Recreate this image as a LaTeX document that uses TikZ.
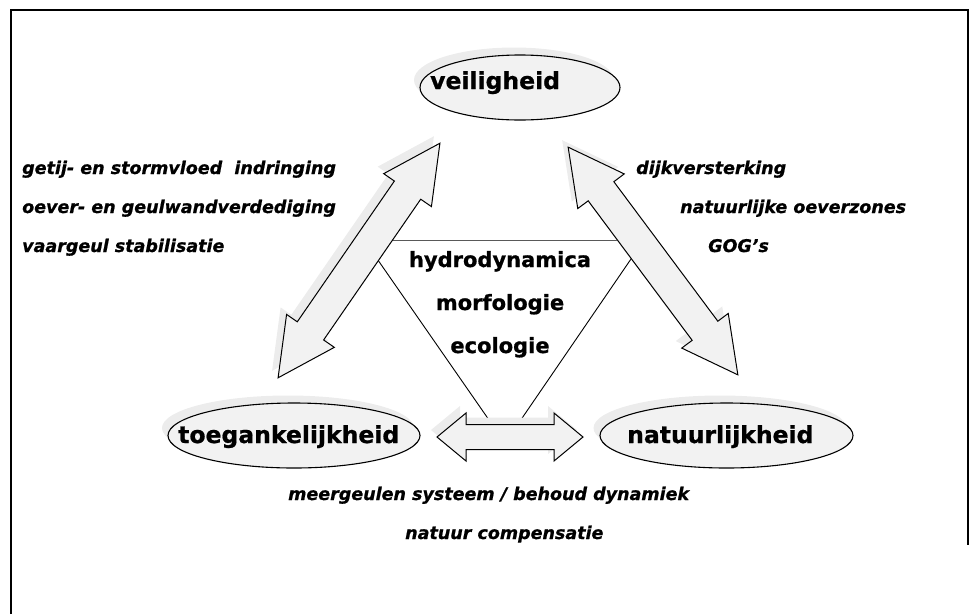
\documentclass[tikz,border=0pt]{standalone}
\usepackage{fontspec}
\setmainfont{DejaVu Sans}[BoldFeatures={FakeBold=0.8},BoldItalicFeatures={FakeBold=0.8}]
\usetikzlibrary{shapes.geometric}
\definecolor{fillg}{RGB}{242,242,242}
\definecolor{shadg}{RGB}{236,236,236}
\begin{document}
\begin{tikzpicture}[x=1pt,y=-1pt,
 ell/.style={ellipse, draw=black, line width=1.1pt, fill=fillg, minimum width=#1, minimum height=65pt, inner sep=0pt},
 ellshadow/.style={ellipse, fill=shadg, minimum width=#1, minimum height=65pt, inner sep=0pt},
 bigtxt/.style={font=\fontsize{23.5}{28}\selectfont\bfseries, inner sep=0pt, anchor=base west},
 ctxt/.style={font=\fontsize{21}{25}\selectfont\bfseries, inner sep=0pt, anchor=base},
 itxt/.style={font=\fontsize{17.5}{21}\selectfont\bfseries\itshape, inner sep=0pt, anchor=base west},
 arr/.style={draw=black, line width=1pt, fill=fillg, line join=miter},
 arrshadow/.style={fill=shadg},
 pics/dbl/.style n args={4}{code={
   \pgfmathsetmacro\hl{#1/2}\pgfmathsetmacro\hb{#1/2-#2}
   \path[pic actions] (-\hl,0) -- (-\hb,#3) -- (-\hb,#4) -- (\hb,#4) -- (\hb,#3) -- (\hl,0) -- (\hb,-#3) -- (\hb,-#4) -- (-\hb,-#4) -- (-\hb,-#3) -- cycle;
 }}]
\useasboundingbox (0,0) rectangle (979,614);
% frame
\draw[line width=1.5pt] (11,614) -- (11,10) -- (968,10) -- (968,545);
% central triangle
\coordinate (tl) at (364,240);
\coordinate (tr) at (644,240);
\coordinate (tb) at (505,443);
\draw[line width=0.9pt] (tl) -- (tb) -- (tr);
\draw[line width=1pt, black!65] (tl) -- (tr);
% ellipse shadows
\node[ellshadow=200pt] at (514,80) {};
\node[ellshadow=252pt] at (288,428) {};
\node[ellshadow=253pt] at (720,428) {};
% arrow shadows
\pic[arrshadow, rotate=55.4] at (353,253.5) {dbl={285}{57}{29}{16}};
\pic[arrshadow, rotate=-53.3] at (647,254) {dbl={284}{55}{29}{16}};
\pic[arrshadow] at (504,430) {dbl={146}{29}{24}{12.5}};
% arrows
\pic[arr, rotate=55.4] at (359,260.5) {dbl={285}{57}{29}{16}};
\pic[arr, rotate=-53.3] at (653,261) {dbl={284}{55}{29}{16}};
\pic[arr] at (510,437) {dbl={146}{29}{24}{12.5}};
% ellipses
\node[ell=200pt] (veil) at (520,87.5) {};
\node[ell=252pt] (toeg) at (294,435.5) {};
\node[ell=253pt] (natu) at (726.5,435.5) {};
\node[bigtxt] at (430,89) {veiligheid};
\node[bigtxt] at (178,443) {toegankelijkheid};
\node[bigtxt] at (627,443) {natuurlijkheid};
% centre
\node[ctxt] at (500,267) {hydrodynamica};
\node[ctxt] at (500,310) {morfologie};
\node[ctxt] at (500,353) {ecologie};
% labels left
\node[itxt] at (22,174) {getij- en stormvloed~ indringing};
\node[itxt] at (22,213) {oever- en geulwandverdediging};
\node[itxt] at (22,252) {vaargeul stabilisatie};
% labels right
\node[itxt] at (636,174) {dijkversterking};
\node[itxt] at (680,213) {natuurlijke oeverzones};
\node[itxt] at (708,252) {GOG’s};
% labels bottom
\node[itxt] at (288,500) {meergeulen systeem / behoud dynamiek};
\node[itxt] at (405,539) {natuur compensatie};
\end{tikzpicture}
\end{document}
